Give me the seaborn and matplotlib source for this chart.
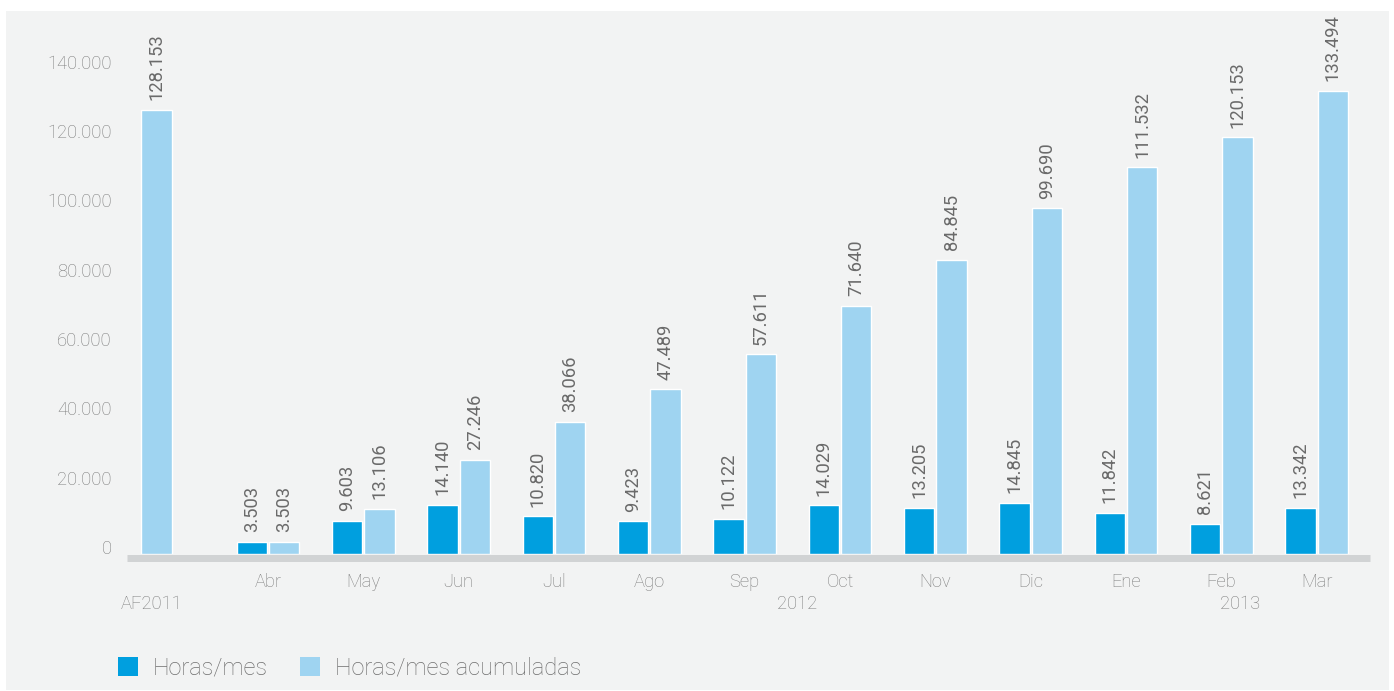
import numpy as np
import pandas as pd
import matplotlib
matplotlib.use("Agg")
import matplotlib.pyplot as plt
import seaborn as sns
from matplotlib.patches import Rectangle, Patch
from matplotlib.transforms import ScaledTranslation

# Monthly hours and accumulated hours
categorias = ["AF2011", "Abr", "May", "Jun", "Jul", "Ago", "Sep", "Oct",
              "Nov", "Dic", "Ene", "Feb", "Mar"]
etiquetas_mes = ["", "Abr", "May", "Jun", "Jul", "Ago", "Sep", "Oct",
                 "Nov", "Dic", "Ene", "Feb", "Mar"]
horas_mes = [None, 3503, 9603, 14140, 10820, 9423, 10122, 14029, 13205,
             14845, 11842, 8621, 13342]
horas_acumuladas = [128153, 3503, 13106, 27246, 38066, 47489, 57611, 71640,
                    84845, 99690, 111532, 120153, 133494]
series = ["Horas/mes", "Horas/mes acumuladas"]
y_ticks = [0, 20000, 40000, 60000, 80000, 100000, 120000, 140000]
anios = [("AF2011", 0.0), ("2012", 6.55), ("2013", 11.2)]

AZUL = "#009fdf"
CELESTE = "#9fd4f1"
FONDO = "#f2f3f3"
BASE = "#d1d3d4"
GRIS_TICK = "#7c7c7c"
GRIS_VALOR = "#6a6a6a"

sns.set_style("white")
plt.rcParams["font.family"] = ["Roboto", "DejaVu Sans"]
plt.rcParams["font.weight"] = "light"

rows = []
for cat, v in zip(categorias, horas_mes):
    if v is not None:
        rows.append({"mes": cat, "horas": v, "serie": series[0]})
for cat, v in zip(categorias, horas_acumuladas):
    rows.append({"mes": cat, "horas": v, "serie": series[1]})
df = pd.DataFrame(rows)

W, H = 1394, 691
fig = plt.figure(figsize=(W / 100, H / 100), dpi=100)
fig.patch.set_facecolor("white")
fig.patches.append(Rectangle((6 / W, 1 / H), (1389 - 6) / W, (690 - 11) / H,
                             transform=fig.transFigure, facecolor=FONDO,
                             edgecolor="none", zorder=-10))

ax = fig.add_axes([127 / W, (H - 554) / H, (1370 - 127) / W, (554 - 20) / H])
ax.set_facecolor("none")
ax.set_zorder(2)

sns.barplot(data=df, x="mes", y="horas", hue="serie", order=categorias,
            hue_order=series, palette=[AZUL, CELESTE], saturation=1,
            width=0.68, gap=0.06, legend=False, ax=ax)

ax.set_xlim(-0.479, 12.56)
ax.set_ylim(0, 154000)

# The opening-year bar sits in the first slot of its group
dark_c, light_c = ax.containers[0], ax.containers[1]
off = light_c[1].get_x() - dark_c[0].get_x()
light_c[0].set_x(light_c[0].get_x() - off)

fmt = lambda v: f"{v:,.0f}".replace(",", ".")
for c in ax.containers:
    ax.bar_label(c, labels=[fmt(p.get_height()) for p in c], rotation=90,
                 padding=7, color=GRIS_VALOR, fontsize=13.2, fontweight="normal")

# Axes styling
for s in ["left", "right", "top"]:
    ax.spines[s].set_visible(False)
ax.spines["bottom"].set_color(BASE)
ax.spines["bottom"].set_linewidth(7 * 0.72)
ax.spines["bottom"].set_position(("outward", 3.5 * 0.72))
ax.spines["bottom"].set_capstyle("butt")

ax.set_yticks(y_ticks)
ax.set_yticklabels([fmt(t) for t in y_ticks], color=GRIS_TICK, fontsize=13.2,
                   fontweight="light")
ax.tick_params(axis="y", length=0, pad=11)
for lab in ax.get_yticklabels():
    lab.set_transform(lab.get_transform() + ScaledTranslation(0, 7 / 100, fig.dpi_scale_trans))

ax.set_xticks(range(len(categorias)))
ax.set_xticklabels(etiquetas_mes, color=GRIS_TICK, fontsize=13.2, fontweight="light")
ax.tick_params(axis="x", length=0, pad=11)
ax.set_xlabel("")
ax.set_ylabel("")

x_af = light_c[0].get_x() + light_c[0].get_width() / 2
for texto, xpos in anios:
    xx = x_af if texto == "AF2011" else xpos
    dx = -5 * 0.72 if texto == "AF2011" else 0
    ax.annotate(texto, xy=(xx, 0), xycoords=("data", "axes fraction"),
                xytext=(dx, -50 * 0.72), textcoords="offset points",
                ha="center", va="center", color=GRIS_TICK, fontsize=13.2,
                fontweight="light", annotation_clip=False)

handles = [Patch(facecolor=AZUL, edgecolor="none"),
           Patch(facecolor=CELESTE, edgecolor="none")]
fs = 17
em = fs / 0.72
leg = fig.legend(handles, series, loc="center left",
                 bbox_to_anchor=(118 / W, 23 / H), ncol=2, frameon=False,
                 handlelength=20 / em, handleheight=20 / em,
                 handletextpad=15 / em, columnspacing=32 / em,
                 borderpad=0, borderaxespad=0, prop={"weight": "light", "size": fs})
for t in leg.get_texts():
    t.set_color("#6f6f6f")

fig.savefig("out.png", dpi=100, facecolor="white")
